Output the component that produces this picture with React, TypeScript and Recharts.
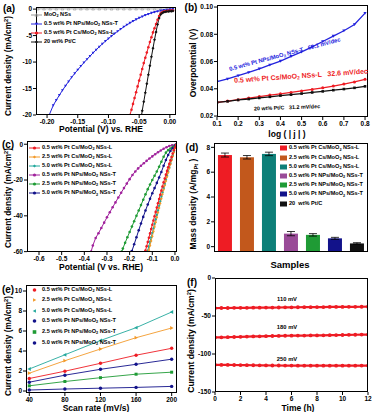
import React from "react";
import { LineChart, Line, XAxis, YAxis, BarChart, Bar, ErrorBar } from "recharts";

type Pt = [number, number];
type Rect = { x: number; y: number; w: number; h: number };

// (a) polarization curves: potential (V vs RHE), current density (mA/cm2)
const aMoO2: Pt[] = [
  [-0.215, 0.05], [-0.205, 0.05], [-0.195, 0.05], [-0.185, 0.04], [-0.175, 0.05], [-0.165, 0.05],
  [-0.155, 0.04], [-0.145, 0.05], [-0.135, 0.05], [-0.125, 0.04], [-0.115, 0.05], [-0.105, 0.05],
  [-0.095, 0.04], [-0.085, 0.05], [-0.075, 0.05], [-0.065, 0.04], [-0.055, 0.05], [-0.045, 0.05],
  [-0.035, 0.04], [-0.025, 0.04], [-0.015, 0.03], [-0.005, 0.02], [0.005, 0.0],
];
const aNPsT: Pt[] = [
  [0.005, -0.02], [0, -0.06], [-0.005, -0.12], [-0.01, -0.2], [-0.015, -0.3], [-0.02, -0.42],
  [-0.025, -0.56], [-0.03, -0.73], [-0.035, -0.93], [-0.04, -1.15], [-0.045, -1.4], [-0.05, -1.67],
  [-0.055, -1.96], [-0.06, -2.28], [-0.065, -2.62], [-0.07, -2.98], [-0.075, -3.36], [-0.08, -3.76],
  [-0.085, -4.18], [-0.09, -4.62], [-0.095, -5.08], [-0.1, -5.56], [-0.105, -6.06], [-0.11, -6.58],
  [-0.115, -7.12], [-0.12, -7.68], [-0.125, -8.26], [-0.13, -8.86], [-0.135, -9.48], [-0.14, -10.12],
  [-0.145, -10.78], [-0.15, -11.46], [-0.155, -12.16], [-0.16, -12.9], [-0.165, -13.68], [-0.17, -14.5],
  [-0.175, -15.36], [-0.18, -16.26], [-0.185, -17.2], [-0.19, -18.2], [-0.1965, -20],
];
const aCsL: Pt[] = [
  [0.005, -0.25], [0.0025, -0.28], [0, -0.3], [-0.0025, -0.32], [-0.005, -0.35], [-0.0075, -0.4],
  [-0.01, -0.46], [-0.0125, -0.58], [-0.015, -0.8], [-0.0175, -1.3], [-0.02, -2.0], [-0.0225, -2.8],
  [-0.025, -3.6], [-0.0275, -4.4], [-0.03, -5.3], [-0.0325, -6.2], [-0.035, -7.2], [-0.0375, -8.2],
  [-0.04, -9.2], [-0.0425, -10.2], [-0.045, -11.3], [-0.0475, -12.4], [-0.05, -13.5], [-0.0525, -14.6],
  [-0.055, -15.7], [-0.0575, -16.8], [-0.06, -17.9], [-0.0625, -19.0], [-0.065, -20.0],
];
const aPtC: Pt[] = [
  [0.005, -0.35], [0.0025, -0.38], [0, -0.4], [-0.0025, -0.43], [-0.005, -0.47], [-0.0075, -0.52],
  [-0.01, -0.6], [-0.0125, -0.72], [-0.015, -1.0], [-0.0175, -1.7], [-0.02, -2.9], [-0.0225, -4.3],
  [-0.025, -5.8], [-0.0275, -7.4], [-0.03, -9.0], [-0.0325, -10.7], [-0.035, -12.4], [-0.0375, -14.1],
  [-0.04, -15.8], [-0.0425, -17.5], [-0.045, -19.2], [-0.046, -20.0],
];
const aXTicks = [-0.2, -0.15, -0.1, -0.05, 0];
const aYTicks = [0, -5, -10, -15, -20];

// (b) Tafel plots: log|j| vs overpotential (V)
const bLog = [0.1, 0.15, 0.2, 0.25, 0.3, 0.35, 0.4, 0.45, 0.5, 0.55, 0.6, 0.65, 0.7, 0.75, 0.8];
const bNPsT = [0.0452, 0.0472, 0.0496, 0.052, 0.0547, 0.0575, 0.0603, 0.0638, 0.0671, 0.0708, 0.0747, 0.0787, 0.0826, 0.0872, 0.0955];
const bCsL = [0.03, 0.031, 0.032, 0.0332, 0.0343, 0.0354, 0.0363, 0.0373, 0.0384, 0.0395, 0.0407, 0.042, 0.0435, 0.045, 0.047];
const bPtC = [0.03, 0.0308, 0.0318, 0.0325, 0.0333, 0.0341, 0.035, 0.0357, 0.0365, 0.0373, 0.0381, 0.039, 0.0398, 0.0407, 0.0418];
const bXTicks = [0.1, 0.2, 0.3, 0.4, 0.5, 0.6, 0.7, 0.8];
const bYTicks = [0.02, 0.04, 0.06, 0.08, 0.1];

// (c) polarization curves of all loadings
const c05L: Pt[] = [
  [0.005, -0.5], [0, -1.8], [-0.005, -3.4], [-0.01, -5.2], [-0.015, -7.1], [-0.02, -9.0], [-0.025, -11.0],
  [-0.03, -12.9], [-0.035, -14.9], [-0.04, -17.0], [-0.045, -19.2], [-0.05, -21.3], [-0.055, -23.6],
  [-0.06, -25.9], [-0.065, -28.2], [-0.07, -30.6], [-0.075, -33.0], [-0.08, -35.4], [-0.085, -37.8],
  [-0.09, -40.2], [-0.095, -42.6], [-0.1, -45.0], [-0.105, -47.4], [-0.11, -49.8], [-0.115, -52.2],
  [-0.12, -54.6], [-0.125, -57.0], [-0.13, -59.4], [-0.1315, -60],
];
const c25L: Pt[] = [
  [0.005, -0.6], [0, -2.2], [-0.005, -4.6], [-0.01, -6.8], [-0.015, -9.0], [-0.02, -11.2], [-0.025, -13.4],
  [-0.03, -15.8], [-0.035, -18.2], [-0.04, -20.6], [-0.045, -23.0], [-0.05, -25.4], [-0.055, -27.9],
  [-0.06, -30.4], [-0.065, -33.0], [-0.07, -35.6], [-0.075, -38.2], [-0.08, -40.9], [-0.085, -43.6],
  [-0.09, -46.2], [-0.095, -48.8], [-0.1, -51.4], [-0.105, -54.0], [-0.11, -56.6], [-0.115, -59.2], [-0.1168, -60],
];
const c50L: Pt[] = [
  [0.005, -0.6], [0, -2.0], [-0.005, -4.2], [-0.01, -6.4], [-0.015, -8.6], [-0.02, -10.8], [-0.025, -13.0],
  [-0.03, -15.3], [-0.035, -17.6], [-0.04, -19.9], [-0.045, -22.2], [-0.05, -24.6], [-0.055, -27.0],
  [-0.06, -29.4], [-0.065, -31.9], [-0.07, -34.4], [-0.075, -36.9], [-0.08, -39.4], [-0.085, -41.9],
  [-0.09, -44.4], [-0.095, -46.9], [-0.1, -49.4], [-0.105, -51.9], [-0.11, -54.4], [-0.115, -56.9],
  [-0.12, -59.4], [-0.1212, -60],
];
const c05T: Pt[] = [
  [0.005, -0.2], [0, -0.4], [-0.0125, -0.6], [-0.025, -1.0], [-0.0375, -1.7], [-0.05, -2.5], [-0.0625, -3.5],
  [-0.075, -4.5], [-0.0875, -5.6], [-0.1, -6.8], [-0.1125, -8.0], [-0.125, -9.3], [-0.1375, -10.6],
  [-0.15, -12.0], [-0.1625, -13.5], [-0.175, -15.2], [-0.1875, -17.2], [-0.2, -19.5], [-0.2125, -22.0],
  [-0.225, -24.5], [-0.2375, -27.1], [-0.25, -29.8], [-0.2625, -32.5], [-0.275, -35.2], [-0.2875, -38.0],
  [-0.3, -40.8], [-0.3125, -43.8], [-0.325, -46.8], [-0.3375, -49.7], [-0.35, -52.4], [-0.3625, -56.6], [-0.37, -60],
];
const c25T: Pt[] = [
  [0.005, -0.3], [0, -0.7], [-0.01, -1.5], [-0.02, -2.4], [-0.03, -3.3], [-0.04, -4.7], [-0.05, -7.0],
  [-0.06, -9.8], [-0.07, -12.6], [-0.08, -15.2], [-0.09, -17.6], [-0.1, -20.0], [-0.11, -22.5],
  [-0.12, -25.1], [-0.13, -28.0], [-0.14, -31.0], [-0.15, -34.0], [-0.16, -37.0], [-0.17, -40.0],
  [-0.18, -43.0], [-0.19, -46.0], [-0.2, -49.0], [-0.21, -52.0], [-0.22, -55.1], [-0.23, -58.3], [-0.235, -60],
];
const c50T: Pt[] = [
  [0.005, -0.3], [0, -0.9], [-0.01, -2.2], [-0.02, -3.8], [-0.03, -6.0], [-0.04, -8.8], [-0.05, -12.0],
  [-0.06, -15.5], [-0.07, -18.6], [-0.08, -21.6], [-0.09, -24.5], [-0.1, -27.4], [-0.11, -30.5],
  [-0.12, -33.7], [-0.13, -37.0], [-0.14, -40.6], [-0.15, -44.3], [-0.16, -48.1], [-0.17, -52.0],
  [-0.18, -55.9], [-0.19, -59.7], [-0.191, -60],
];
const cXTicks = [-0.6, -0.5, -0.4, -0.3, -0.2, -0.1, 0];
const cYTicks = [0, -20, -40, -60];

// (d) mass activity
const dNames = ["0.5 Cs-L", "2.5 Cs-L", "5.0 Cs-L", "0.5 NPs-T", "2.5 NPs-T", "5.0 NPs-T", "Pt/C"];
const dVals = [7.38, 7.2, 7.47, 1.05, 0.95, 0.67, 0.26];
const dErr = [0.16, 0.14, 0.14, 0.17, 0.1, 0.08, 0.06];
const dYTicks = [0, 2, 4, 6, 8];

// (e) capacitive current vs scan rate
const eScan = [40, 80, 120, 160, 200];
const e05L = [1.25, 1.98, 2.77, 3.58, 4.27];
const e25L = [1.78, 3.03, 4.2, 5.33, 6.3];
const e50L = [2.2, 3.62, 5.05, 6.33, 7.9];
const e05T = [0.88, 1.58, 2.17, 2.67, 3.18];
const e25T = [0.52, 0.95, 1.33, 1.68, 1.88];
const e50T = [0.1, 0.2, 0.28, 0.36, 0.46];
const eYTicks = [0, 2, 4, 6, 8, 10];

// (f) chronoamperometry
const fTime = [0, 0.5, 1, 1.5, 2, 2.5, 3, 3.5, 4, 4.5, 5, 5.5, 6, 6.5, 7, 7.5, 8, 8.5, 9, 9.5, 10, 10.5, 11, 11.5, 12];
const f110 = [-39.6, -39.5, -39.5, -39.3, -39.2, -39.2, -39.0, -39.0, -38.9, -38.9, -38.8, -38.6, -38.6, -38.5, -38.4, -38.4, -38.3, -38.2, -38.1, -38.1, -38.0, -37.9, -37.9, -37.8, -37.7];
const f180 = [-78.2, -78.0, -77.9, -77.6, -77.4, -77.1, -76.9, -76.7, -76.5, -76.3, -76.2, -76.0, -75.9, -75.8, -75.7, -75.6, -75.5, -75.4, -75.2, -75.1, -75.0, -74.8, -74.7, -74.5, -74.4];
const f250 = [-114.3, -114.4, -114.4, -114.5, -114.6, -114.7, -114.8, -114.9, -115.0, -115.1, -115.1, -115.2, -115.2, -115.3, -115.3, -115.3, -115.4, -115.4, -115.4, -115.4, -115.3, -115.3, -115.3, -115.2, -115.2];
const fXTicks = [0, 2, 4, 6, 8, 10, 12];
const fYTicks = [0, -50, -100, -150];

const RED = "#ee1c24";
const BLUE = "#2222dd";
const BLACK = "#111";
const GREY = "#999";
const ORANGE = "#f39a2a";
const TEAL = "#22a89c";
const PURPLE = "#a0229c";
const GREEN = "#1f9b35";
const NAVY = "#12128a";
const BROWN = "#c2581c";
const DTEAL = "#0d7f78";
const DPURPLE = "#9a4b98";
const dColors = [RED, BROWN, DTEAL, DPURPLE, GREEN, NAVY, BLACK];

const RA: Rect = { x: 36, y: 7, w: 140, h: 108 };
const RB: Rect = { x: 217, y: 5, w: 151, h: 112 };
const RC: Rect = { x: 27, y: 141, w: 150, h: 111 };
const RD: Rect = { x: 214, y: 143, w: 154, h: 109 };
const RE: Rect = { x: 26, y: 285, w: 151, h: 108 };
const RF: Rect = { x: 215, y: 278, w: 153, h: 114 };

const YW = 40;
const XH = 20;
const MT = 8;
const MR = 8;

const tickStyle = { fontSize: 6.5, fill: "#000", fontWeight: 700 };

type Shape = "circle" | "square" | "up" | "down" | "left" | "right" | "diamond" | "openUp";

function mark(shape: Shape, cx: number, cy: number, s: number, color: string, key?: React.Key) {
  switch (shape) {
    case "circle":
      return <circle key={key} cx={cx} cy={cy} r={s} fill={color} />;
    case "square":
      return <rect key={key} x={cx - s} y={cy - s} width={2 * s} height={2 * s} fill={color} />;
    case "up":
      return <polygon key={key} points={`${cx},${cy - s} ${cx + s},${cy + s * 0.8} ${cx - s},${cy + s * 0.8}`} fill={color} />;
    case "openUp":
      return <polygon key={key} points={`${cx},${cy - s} ${cx + s},${cy + s * 0.8} ${cx - s},${cy + s * 0.8}`} fill="none" stroke={color} strokeWidth={0.6} />;
    case "down":
      return <polygon key={key} points={`${cx},${cy + s} ${cx + s},${cy - s * 0.8} ${cx - s},${cy - s * 0.8}`} fill={color} />;
    case "left":
      return <polygon key={key} points={`${cx - s},${cy} ${cx + s * 0.8},${cy - s} ${cx + s * 0.8},${cy + s}`} fill={color} />;
    case "right":
      return <polygon key={key} points={`${cx + s},${cy} ${cx - s * 0.8},${cy - s} ${cx - s * 0.8},${cy + s}`} fill={color} />;
    case "diamond":
      return <polygon key={key} points={`${cx},${cy - s} ${cx + s},${cy} ${cx},${cy + s} ${cx - s},${cy}`} fill={color} />;
  }
}

const dotOf = (shape: Shape, s: number, color: string) => (p: any) =>
  p.cx == null || p.cy == null ? <g key={p.index} /> : mark(shape, p.cx, p.cy, s, color, p.index);

const toXY = (a: Pt[]) => a.map(([x, y]) => ({ x, y }));

function Sub({ children }: { children: React.ReactNode }) {
  return <span style={{ fontSize: "0.68em", position: "relative", top: "0.3em" }}>{children}</span>;
}
function Sup({ children }: { children: React.ReactNode }) {
  return <span style={{ fontSize: "0.68em", position: "relative", top: "-0.45em" }}>{children}</span>;
}
const MoO2 = <>MoO<Sub>2</Sub></>;

function Frame({ r }: { r: Rect }) {
  return (
    <div style={{ position: "absolute", left: r.x, top: r.y, width: r.w, height: r.h, border: "1px solid #000", boxSizing: "border-box", pointerEvents: "none" }} />
  );
}

function T({ cx, cy, size = 8.5, color = "#000", rot = 0, children }: { cx: number; cy: number; size?: number; color?: string; rot?: number; children: React.ReactNode }) {
  return (
    <div style={{ position: "absolute", left: cx, top: cy, transform: `translate(-50%, -50%) rotate(${rot}deg)`, fontSize: size, color, whiteSpace: "pre", lineHeight: 1 }}>
      {children}
    </div>
  );
}

function LegRow({ x, y, shape, color, line = true, swatch = false, s = 1.6, children }: { x: number; y: number; shape?: Shape; color: string; line?: boolean; swatch?: boolean; s?: number; children: React.ReactNode }) {
  return (
    <div style={{ position: "absolute", left: x, top: y - 4, height: 8, display: "flex", alignItems: "center", fontSize: 5.6, whiteSpace: "pre", lineHeight: 1 }}>
      <svg width={swatch ? 7 : 11} height={8} style={{ marginRight: 2, flex: "none" }}>
        {swatch ? (
          <rect x={0} y={1.5} width={7} height={5} fill={color} />
        ) : (
          <>
            {line && <line x1={0} x2={11} y1={4} y2={4} stroke={color} strokeWidth={1} />}
            {shape && mark(shape, 5.5, 4, s, color)}
          </>
        )}
      </svg>
      <span>{children}</span>
    </div>
  );
}

function Pos({ r, children }: { r: Rect; children: React.ReactNode }) {
  return <div style={{ position: "absolute", left: r.x - YW, top: r.y - MT }}>{children}</div>;
}
const size = (r: Rect) => ({ width: YW + r.w + MR, height: MT + r.h + XH, margin: { top: MT, right: MR, left: 0, bottom: 0 } });

const axisCommon = { axisLine: false, tickSize: 3, tickMargin: 1, stroke: "#000", tick: tickStyle, interval: 0 as const, allowDataOverflow: true };

const legendLabels = [
  <>0.5 wt% Pt Cs/{MoO2} NSs-L</>,
  <>2.5 wt% Pt Cs/{MoO2} NSs-L</>,
  <>5.0 wt% Pt Cs/{MoO2} NSs-L</>,
  <>0.5 wt% Pt NPs/{MoO2} NSs-T</>,
  <>2.5 wt% Pt NPs/{MoO2} NSs-T</>,
  <>5.0 wt% Pt NPs/{MoO2} NSs-T</>,
];

export default function App() {
  const bRows = bLog.map((x, i) => ({ x, t: bNPsT[i], l: bCsL[i], p: bPtC[i] }));
  const dRows = dNames.map((name, i) => ({ name, v: dVals[i], err: dErr[i] }));
  const eRows = eScan.map((x, i) => ({ x, a: e05L[i], b: e25L[i], c: e50L[i], d: e05T[i], e: e25T[i], f: e50T[i] }));
  const fRows = fTime.map((x, i) => ({ x, a: f110[i], b: f180[i], c: f250[i] }));
  const dBottom = MT + RD.h;

  const barShape = (p: any) => {
    const bottom = p.background && p.background.height ? p.background.y + p.background.height : dBottom;
    return <rect x={p.x} y={p.y} width={p.width} height={Math.max(0, bottom - p.y)} fill={dColors[p.index]} />;
  };

  return (
    <div style={{ position: "absolute", left: 0, top: 0, width: 374, height: 412, background: "#fff", overflow: "hidden", fontFamily: '"Liberation Sans", Arial, sans-serif', fontWeight: 700, color: "#000" }}>
      {/* (a) */}
      <Pos r={RA}>
        <LineChart {...size(RA)}>
          <XAxis type="number" dataKey="x" domain={[-0.218, 0.01]} ticks={aXTicks} tickFormatter={(v: number) => v.toFixed(2)} height={XH} {...axisCommon} />
          <YAxis type="number" domain={[-20, 0.4]} ticks={aYTicks} width={YW} {...axisCommon} />
          <Line data={toXY(aMoO2)} dataKey="y" stroke={GREY} strokeWidth={0.8} dot={dotOf("openUp", 1.4, GREY)} activeDot={false} isAnimationActive={false} />
          <Line data={toXY(aNPsT)} dataKey="y" stroke={BLUE} strokeWidth={1} dot={dotOf("down", 1.4, BLUE)} activeDot={false} isAnimationActive={false} />
          <Line data={toXY(aCsL)} dataKey="y" stroke={RED} strokeWidth={1} dot={dotOf("circle", 1.3, RED)} activeDot={false} isAnimationActive={false} />
          <Line data={toXY(aPtC)} dataKey="y" stroke={BLACK} strokeWidth={1} dot={dotOf("diamond", 1.5, BLACK)} activeDot={false} isAnimationActive={false} />
        </LineChart>
      </Pos>
      <Frame r={RA} />
      <T cx={9} cy={9} size={10}>(a)</T>
      <LegRow x={31} y={15} shape="openUp" color={GREY}>{MoO2} NSs</LegRow>
      <LegRow x={31} y={24} shape="down" color={BLUE}>0.5 wt% Pt NPs/{MoO2} NSs-T</LegRow>
      <LegRow x={31} y={33} shape="circle" color={RED}>0.5 wt% Pt Cs/{MoO2} NSs-L</LegRow>
      <LegRow x={31} y={42} shape="diamond" color={BLACK}>20 wt% Pt/C</LegRow>
      <T cx={8} cy={66} size={8.3} rot={-90}>Current density (mA/cm<Sup>2</Sup>)</T>
      <T cx={101} cy={129}>Potential (V) vs. RHE</T>

      {/* (b) */}
      <Pos r={RB}>
        <LineChart data={bRows} {...size(RB)}>
          <XAxis type="number" dataKey="x" domain={[0.1, 0.814]} ticks={bXTicks} tickFormatter={(v: number) => v.toFixed(1)} height={XH} {...axisCommon} />
          <YAxis type="number" domain={[0.0193, 0.1015]} ticks={bYTicks} tickFormatter={(v: number) => v.toFixed(2)} width={YW} {...axisCommon} />
          <Line dataKey="t" stroke={BLUE} strokeWidth={1.3} dot={dotOf("down", 1.6, BLUE)} activeDot={false} isAnimationActive={false} />
          <Line dataKey="l" stroke={RED} strokeWidth={1.3} dot={dotOf("circle", 1.5, RED)} activeDot={false} isAnimationActive={false} />
          <Line dataKey="p" stroke={BLACK} strokeWidth={1.3} dot={dotOf("square", 1.3, BLACK)} activeDot={false} isAnimationActive={false} />
        </LineChart>
      </Pos>
      <Frame r={RB} />
      <T cx={191} cy={8} size={10}>(b)</T>
      <T cx={285} cy={55} size={5.8} color={BLUE} rot={-15}>0.5 wt% Pt NPs/{MoO2} NSs-T   68.1 mV/dec</T>
      <T cx={301} cy={76} size={7} color={RED} rot={-4}>0.5 wt% Pt Cs/{MoO2} NSs-L   32.6 mV/dec</T>
      <T cx={287} cy={108} size={5.4} rot={-2}>20 wt% Pt/C   31.2 mV/dec</T>
      <T cx={193} cy={63} rot={-90}>Overpotential (V)</T>
      <T cx={287} cy={134}>log ( | j | )</T>

      {/* (c) */}
      <Pos r={RC}>
        <LineChart {...size(RC)}>
          <XAxis type="number" dataKey="x" domain={[-0.653, 0.009]} ticks={cXTicks} tickFormatter={(v: number) => v.toFixed(1)} height={XH} {...axisCommon} />
          <YAxis type="number" domain={[-60.2, 1.8]} ticks={cYTicks} width={YW} {...axisCommon} />
          <Line data={toXY(c05T)} dataKey="y" stroke={PURPLE} strokeWidth={1} dot={dotOf("circle", 1.3, PURPLE)} activeDot={false} isAnimationActive={false} />
          <Line data={toXY(c25T)} dataKey="y" stroke={GREEN} strokeWidth={1} dot={dotOf("circle", 1.3, GREEN)} activeDot={false} isAnimationActive={false} />
          <Line data={toXY(c50T)} dataKey="y" stroke={NAVY} strokeWidth={1} dot={dotOf("circle", 1.3, NAVY)} activeDot={false} isAnimationActive={false} />
          <Line data={toXY(c50L)} dataKey="y" stroke={TEAL} strokeWidth={1} dot={dotOf("diamond", 1.4, TEAL)} activeDot={false} isAnimationActive={false} />
          <Line data={toXY(c25L)} dataKey="y" stroke={ORANGE} strokeWidth={1} dot={dotOf("diamond", 1.4, ORANGE)} activeDot={false} isAnimationActive={false} />
          <Line data={toXY(c05L)} dataKey="y" stroke={RED} strokeWidth={1} dot={dotOf("circle", 1.3, RED)} activeDot={false} isAnimationActive={false} />
        </LineChart>
      </Pos>
      <Frame r={RC} />
      <T cx={8} cy={145} size={10}>(c)</T>
      {[RED, ORANGE, TEAL, PURPLE, GREEN, NAVY].map((col, i) => (
        <LegRow key={i} x={29} y={[147.7, 156.7, 165.7, 175, 184, 193.3][i]} shape={i === 1 || i === 2 ? "diamond" : "circle"} color={col}>
          {legendLabels[i]}
        </LegRow>
      ))}
      <T cx={8} cy={198} size={8.3} rot={-90}>Current density (mA/cm<Sup>2</Sup>)</T>
      <T cx={101} cy={267}>Potential (V vs. RHE)</T>

      {/* (d) */}
      <Pos r={RD}>
        <BarChart data={dRows} barCategoryGap="18%" {...size(RD)}>
          <XAxis type="category" dataKey="name" tick={false} tickLine={false} axisLine={false} height={XH} />
          <YAxis type="number" domain={[-0.43, 8.35]} ticks={dYTicks} width={YW} {...axisCommon} />
          <Bar dataKey="v" shape={barShape} isAnimationActive={false}>
            <ErrorBar dataKey="err" width={4} stroke="#000" strokeWidth={0.8} />
          </Bar>
        </BarChart>
      </Pos>
      <Frame r={RD} />
      <T cx={192} cy={148} size={10}>(d)</T>
      {dColors.map((col, i) => (
        <LegRow key={i} x={280} y={148.3 + i * 9.2} color={col} swatch>
          {i < 6 ? legendLabels[i] : <>20  wt% Pt/C</>}
        </LegRow>
      ))}
      <T cx={193} cy={204} rot={-90}>Mass density (A/mg<Sub>Pt</Sub> )</T>
      <T cx={290} cy={265} size={9.5}>Samples</T>

      {/* (e) */}
      <Pos r={RE}>
        <LineChart data={eRows} {...size(RE)}>
          <XAxis type="number" dataKey="x" domain={[36.3, 206]} ticks={eScan} height={XH} {...axisCommon} />
          <YAxis type="number" domain={[-0.2, 10.6]} ticks={eYTicks} width={YW} {...axisCommon} />
          <Line dataKey="a" stroke={RED} strokeWidth={0.9} dot={dotOf("circle", 1.7, RED)} activeDot={false} isAnimationActive={false} />
          <Line dataKey="b" stroke={ORANGE} strokeWidth={0.9} dot={dotOf("right", 1.9, ORANGE)} activeDot={false} isAnimationActive={false} />
          <Line dataKey="c" stroke={TEAL} strokeWidth={0.9} dot={dotOf("left", 1.9, TEAL)} activeDot={false} isAnimationActive={false} />
          <Line dataKey="d" stroke={NAVY} strokeWidth={0.9} dot={dotOf("circle", 1.7, NAVY)} activeDot={false} isAnimationActive={false} />
          <Line dataKey="e" stroke={GREEN} strokeWidth={0.9} dot={dotOf("square", 1.5, GREEN)} activeDot={false} isAnimationActive={false} />
          <Line dataKey="f" stroke={NAVY} strokeWidth={0.9} dot={dotOf("circle", 1.7, NAVY)} activeDot={false} isAnimationActive={false} />
        </LineChart>
      </Pos>
      <Frame r={RE} />
      <T cx={8} cy={290} size={10}>(e)</T>
      {[RED, ORANGE, TEAL, NAVY, GREEN, NAVY].map((col, i) => (
        <LegRow key={i} x={29} y={[290, 300.3, 310.5, 321, 331.5, 342.5][i]} line={false} s={1.8} shape={(["circle", "right", "left", "circle", "square", "circle"] as Shape[])[i]} color={col}>
          {legendLabels[i]}
        </LegRow>
      ))}
      <T cx={8} cy={346} size={8.3} rot={-90}>Current density (mA/cm<Sup>2</Sup>)</T>
      <T cx={96} cy={407.5}>Scan rate (mV/s)</T>

      {/* (f) */}
      <Pos r={RF}>
        <LineChart data={fRows} {...size(RF)}>
          <XAxis type="number" dataKey="x" domain={[0, 12]} ticks={fXTicks} height={XH} {...axisCommon} />
          <YAxis type="number" domain={[-150, 0]} ticks={fYTicks} width={YW} {...axisCommon} />
          <Line dataKey="a" stroke={RED} strokeWidth={2.2} dot={dotOf("circle", 1.9, RED)} activeDot={false} isAnimationActive={false} />
          <Line dataKey="b" stroke={RED} strokeWidth={2.2} dot={dotOf("circle", 1.9, RED)} activeDot={false} isAnimationActive={false} />
          <Line dataKey="c" stroke={RED} strokeWidth={2.2} dot={dotOf("circle", 1.9, RED)} activeDot={false} isAnimationActive={false} />
        </LineChart>
      </Pos>
      <Frame r={RF} />
      <T cx={192} cy={283} size={10}>(f)</T>
      <T cx={287} cy={300} size={5.8}>110 mV</T>
      <T cx={287} cy={328} size={5.8}>180 mV</T>
      <T cx={287} cy={360} size={5.8}>250 mV</T>
      <T cx={191} cy={341} size={8.6} rot={-90}>Current density (mA/cm<Sup>2</Sup>)</T>
      <T cx={298} cy={407.5}>Time (h)</T>
    </div>
  );
}
